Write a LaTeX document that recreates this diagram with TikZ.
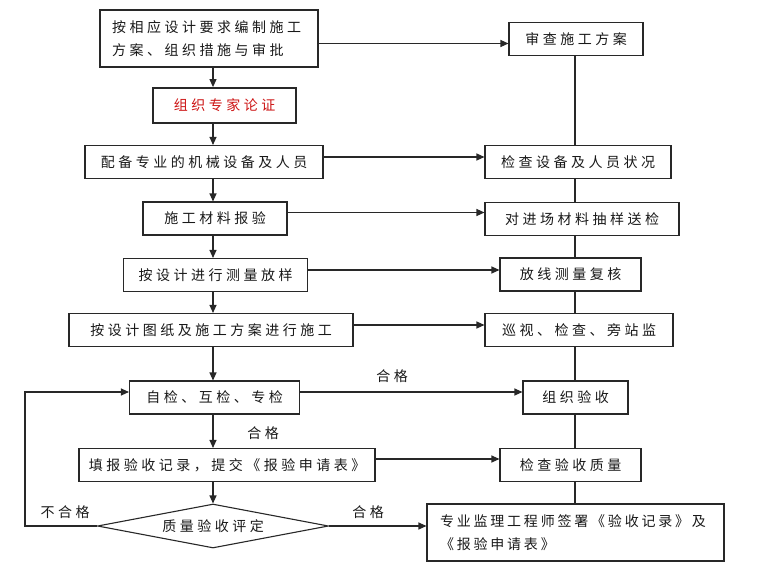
\documentclass[tikz,border=0pt]{standalone}
\usepackage{fontspec}
\newfontfamily\cjk{Noto Sans CJK SC}[LetterSpace=25]
\newfontfamily\cjkn{Noto Sans CJK SC}[LetterSpace=20]
\usetikzlibrary{arrows.meta,shapes.geometric}
\definecolor{lnc}{RGB}{40,40,40}
\definecolor{redtxt}{RGB}{205,20,20}
\begin{document}
\begin{tikzpicture}[x=1pt,y=-1pt,
  txt/.style={font=\cjk\fontsize{14}{22.5}\selectfont, text=black!90},
  box/.style={txt, draw=lnc, line width=1.1pt, inner sep=0pt, minimum height=33pt},
  arr/.style={draw=lnc, line width=1.1pt, -{Triangle[length=8pt,width=7pt]}},
  ln/.style={draw=lnc, line width=1.1pt},
  lbl/.style={txt, inner sep=0pt}]
\useasboundingbox[fill=white] (0,0) rectangle (760,570);
\coordinate (ax) at (213,0);
\coordinate (rx) at (575,0);
\coordinate (fb) at (25,0);
% left column
\node[box, minimum width=218pt, minimum height=57pt, text width=194pt, align=left] (b1) at (209,38.5) {按相应设计要求编制施工\\方案、组织措施与审批};
\node[box, line width=1.8pt, minimum width=143pt, minimum height=35pt, text=redtxt] (b2) at (224.5,105.5) {组织专家论证};
\node[box, minimum width=238pt] (b3) at (204,162) {配备专业的机械设备及人员};
\node[box, minimum width=144pt] (b4) at (215,218.5) {施工材料报验};
\node[box, minimum width=184pt] (b5) at (215.5,275) {按设计进行测量放样};
\node[box, minimum width=284pt] (b6) at (211,330) {按设计图纸及施工方案进行施工};
\node[box, minimum width=170pt] (b7) at (214.5,397.5) {自检、互检、专检};
\node[box, minimum width=296pt] (b8) at (227,465) {填报验收记录，提交《报验申请表》};
\node[txt, draw=lnc, line width=1.1pt, diamond, shape aspect=5.37, minimum width=231pt, minimum height=44pt, inner sep=0pt] (dia) at (213,526) {质量验收评定};
% right column
\node[box, minimum width=134pt] (r1) at (576,39) {审查施工方案};
\node[box, minimum width=186pt] (r2) at (578,162) {检查设备及人员状况};
\node[box, minimum width=194pt] (r3) at (582,219) {对进场材料抽样送检};
\node[box, minimum width=141pt] (r4) at (570.5,274.5) {放线测量复核};
\node[box, minimum width=188pt] (r5) at (579,330) {巡视、检查、旁站监};
\node[box, minimum width=105pt] (r6) at (575.5,397.5) {组织验收};
\node[box, minimum width=141pt] (r7) at (570.5,465) {检查验收质量};
\node[box, minimum width=297pt, minimum height=57pt, text width=271pt, align=left, font=\cjkn\fontsize{14}{23}\selectfont] (r8) at (575.5,532.5) {专业监理工程师签署《验收记录》及\\《报验申请表》};
% main vertical arrows
\draw[arr] (b1.south -| ax) -- (b2.north -| ax);
\draw[arr] (b2.south -| ax) -- (b3.north -| ax);
\draw[arr] (b3.south -| ax) -- (b4.north -| ax);
\draw[arr] (b4.south -| ax) -- (b5.north -| ax);
\draw[arr] (b5.south -| ax) -- (b6.north -| ax);
\draw[arr] (b6.south -| ax) -- (b7.north -| ax);
\draw[arr] (b7.south -| ax) -- (b8.north -| ax);
\draw[arr] (b8.south -| ax) -- (dia.north);
% right vertical line
\draw[ln] (r1.south -| rx) -- (r2.north -| rx);
\draw[ln] (r2.south -| rx) -- (r3.north -| rx);
\draw[ln] (r3.south -| rx) -- (r4.north -| rx);
\draw[ln] (r4.south -| rx) -- (r5.north -| rx);
\draw[ln] (r5.south -| rx) -- (r6.north -| rx);
\draw[ln] (r6.south -| rx) -- (r7.north -| rx);
\draw[ln] (r7.south -| rx) -- (r8.north -| rx);
% horizontal arrows
\draw[arr] ([yshift=-5pt]b1.east) -- ([yshift=-5pt]b1.east -| r1.west);
\draw[arr] ([yshift=5pt]b3.east) -- ([yshift=5pt]b3.east -| r2.west);
\draw[arr] ([yshift=6pt]b4.east) -- ([yshift=6pt]b4.east -| r3.west);
\draw[arr] ([yshift=5pt]b5.east) -- ([yshift=5pt]b5.east -| r4.west);
\draw[arr] ([yshift=5pt]b6.east) -- ([yshift=5pt]b6.east -| r5.west);
\draw[arr] ([yshift=5.5pt]b7.east) -- ([yshift=5.5pt]b7.east -| r6.west);
\draw[arr] ([yshift=6pt]b8.east) -- ([yshift=6pt]b8.east -| r7.west);
\draw[arr] (dia.east) -- (dia.east -| r8.west);
% feedback
\draw[arr] (dia.west) -- (dia.west -| fb) |- ([yshift=5.5pt]b7.west);
% labels
\node[lbl] (l1) at (392,376) {合格};
\node[lbl] (l2) at (263,433) {合格};
\node[lbl] (l3) at (368,512) {合格};
\node[lbl] (l4) at (65,512) {不合格};
\end{tikzpicture}
\end{document}
